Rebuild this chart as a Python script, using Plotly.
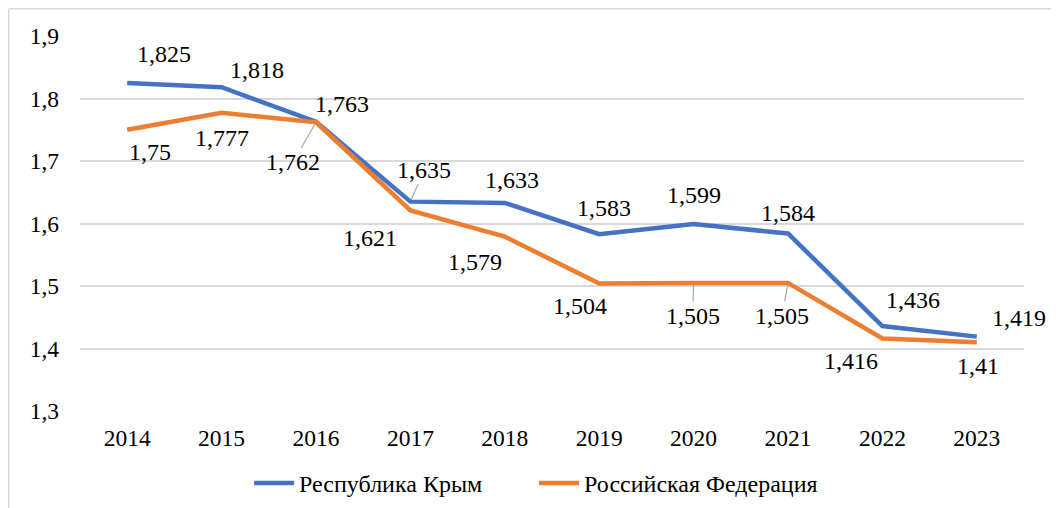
import plotly.graph_objects as go

years = ["2014", "2015", "2016", "2017", "2018", "2019", "2020", "2021", "2022", "2023"]
crimea = [1.825, 1.818, 1.763, 1.635, 1.633, 1.583, 1.599, 1.584, 1.436, 1.419]
russia = [1.75, 1.777, 1.762, 1.621, 1.579, 1.504, 1.505, 1.505, 1.416, 1.41]
y_ticks = [1.3, 1.4, 1.5, 1.6, 1.7, 1.8, 1.9]
y_ticktext = ["1,3", "1,4", "1,5", "1,6", "1,7", "1,8", "1,9"]
crimea_name = "Республика Крым"
russia_name = "Российская Федерация"

# label offsets in pixels (ax, ay) and leader-line flags
crimea_off = [(37, -29), (35, -17), (26, -18), (14, -32), (7, -23), (5, -26), (0, -29), (0, -21), (31, -26), (42, -19)]
crimea_lead = [False, False, False, True, False, False, False, False, False, False]
russia_off = [(23, 22), (0, 25), (-23, 40), (-40, 28), (-30, 25), (-19, 22), (-1, 33), (-6, 33), (-31, 22), (1, 24)]
russia_lead = [False, False, True, False, False, False, True, True, False, False]

def fmt(v):
    s = ("%.3f" % v).rstrip("0").rstrip(".")
    return s.replace(".", ",")

# page has 8px body margin; figure sized to fill the rest of the window
W, H = 1051, 500
ML, MR, MT, MB = 72, 35, 28, 97
FONT = "'Liberation Serif', 'Times New Roman', Tinos, serif"

fig = go.Figure()
fig.add_trace(go.Scatter(x=years, y=crimea, mode="lines", name=crimea_name,
                         line=dict(color="#4472C4", width=4.5)))
fig.add_trace(go.Scatter(x=years, y=russia, mode="lines", name=russia_name,
                         line=dict(color="#ED7D31", width=4.5)))

annots = []
for vals, offs, leads in [(crimea, crimea_off, crimea_lead), (russia, russia_off, russia_lead)]:
    for i, (v, (ax, ay), ld) in enumerate(zip(vals, offs, leads)):
        annots.append(dict(x=i, y=v, xref="x", yref="y", text=fmt(v),
                           showarrow=True, ax=ax, ay=ay,
                           arrowhead=0, arrowwidth=1.2, standoff=2,
                           arrowcolor="#A6A6A6" if ld else "rgba(0,0,0,0)",
                           font=dict(family=FONT, size=24, color="#000000")))

pw = W - ML - MR
ph = H - MT - MB
px0 = (0.75 - ML) / pw
py1 = 1 + (MT - 0.75) / ph
shapes = [
    dict(type="line", xref="paper", yref="paper", x0=px0, x1=px0, y0=-MB / ph - 0.1, y1=py1,
         line=dict(color="#D9D9D9", width=1.5)),
    dict(type="line", xref="paper", yref="paper", x0=px0, x1=1 + MR / pw + 0.1, y0=py1, y1=py1,
         line=dict(color="#D9D9D9", width=1.5)),
]

fig.update_layout(
    width=W, height=H,
    margin=dict(l=ML, r=MR, t=MT, b=MB, autoexpand=False),
    paper_bgcolor="white", plot_bgcolor="white",
    font=dict(family=FONT, size=23.5, color="#000000"),
    showlegend=True,
    legend=dict(orientation="h", x=0.481, xanchor="center", y=-50 / ph, yanchor="top",
                font=dict(family=FONT, size=24, color="#000000"), itemwidth=40,
                entrywidth=230, entrywidthmode="pixels", tracegroupgap=0),
    annotations=annots,
    shapes=shapes,
    xaxis=dict(type="category", range=[-0.5, len(years) - 0.5], showgrid=False,
               showline=False, zeroline=False,
               ticks="", tickfont=dict(family=FONT, size=23.5), ticklabelstandoff=10),
    yaxis=dict(range=[1.3, 1.9], tickvals=y_ticks, ticktext=y_ticktext, showgrid=True,
               gridcolor="#D9D9D9", gridwidth=1.5, zeroline=False, showline=False, ticks="",
               tickfont=dict(family=FONT, size=23.5), ticklabelstandoff=20),
)

fig.write_html("out.html")
